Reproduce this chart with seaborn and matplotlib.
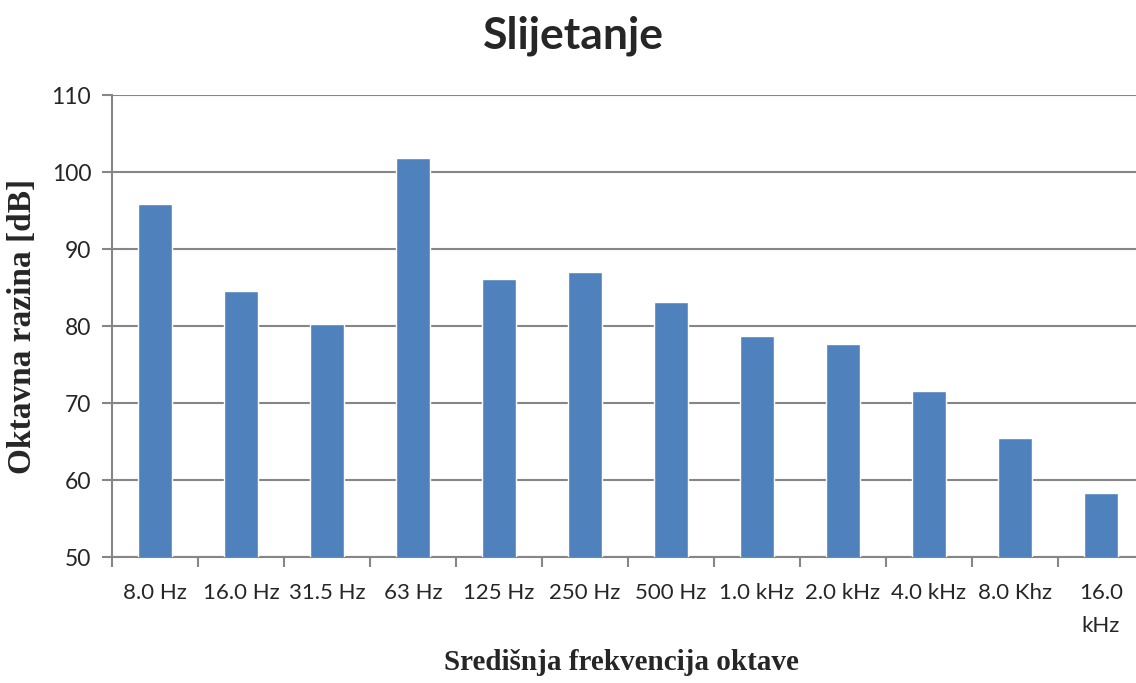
import numpy as np
import pandas as pd
import seaborn as sns
import matplotlib.pyplot as plt
from matplotlib.ticker import FixedLocator

sns.set_style("white")

bands = ["8.0 Hz", "16.0 Hz", "31.5 Hz", "63 Hz", "125 Hz", "250 Hz", "500 Hz",
         "1.0 kHz", "2.0 kHz", "4.0 kHz", "8.0 Khz", "16.0\nkHz"]
levels = [95.9, 84.6, 80.2, 101.8, 86.1, 87.0, 83.1, 78.7, 77.7, 71.6, 65.4, 58.3]

data = pd.DataFrame({"band": bands, "level": levels})

grid_col = "#868686"
fig = plt.figure(figsize=(11.36, 6.83), dpi=100)
ax = fig.add_axes([112 / 1136, 126 / 683, 1032 / 1136, 462 / 683])

sns.barplot(data=data, x="band", y="level", color="#4F81BD", saturation=1,
            width=0.4, ax=ax, zorder=3)

ax.set_ylim(50, 110)
ax.set_xlim(-0.5, 11.5)
ax.set_yticks(range(50, 111, 10))
ax.yaxis.grid(True, color=grid_col, linewidth=1.5, zorder=0)
ax.set_axisbelow(True)

for s in ["top", "right"]:
    ax.spines[s].set_visible(False)
for s in ["left", "bottom"]:
    ax.spines[s].set_color(grid_col)
    ax.spines[s].set_linewidth(1.5)

ax.xaxis.set_minor_locator(FixedLocator(np.arange(-0.5, 12, 1)))
ax.tick_params(axis="x", which="major", length=0, pad=19, labelsize=16)
ax.tick_params(axis="x", which="minor", bottom=True, length=7, width=1.5, color=grid_col)
ax.tick_params(axis="y", left=True, length=7, width=1.5, color=grid_col, pad=8, labelsize=16.5)
for lab in ax.get_xticklabels() + ax.get_yticklabels():
    lab.set_fontfamily("Lato")
ax.get_xticklabels()[-1].set_linespacing(1.8)

ax.set_xlabel("Središnja frekvencija oktave", family="Liberation Serif",
              fontweight="bold", fontsize=21, va="center")
ax.xaxis.set_label_coords(0.494, -0.229)
ax.set_ylabel("Oktavna razina [dB]", family="Liberation Serif",
              fontweight="bold", fontsize=24, labelpad=10)

fig.text(573 / 1136, 1 - 36 / 683, "Slijetanje", family="Lato", fontweight="bold",
         fontsize=32, ha="center", va="center")

fig.savefig("out.png", dpi=100)
